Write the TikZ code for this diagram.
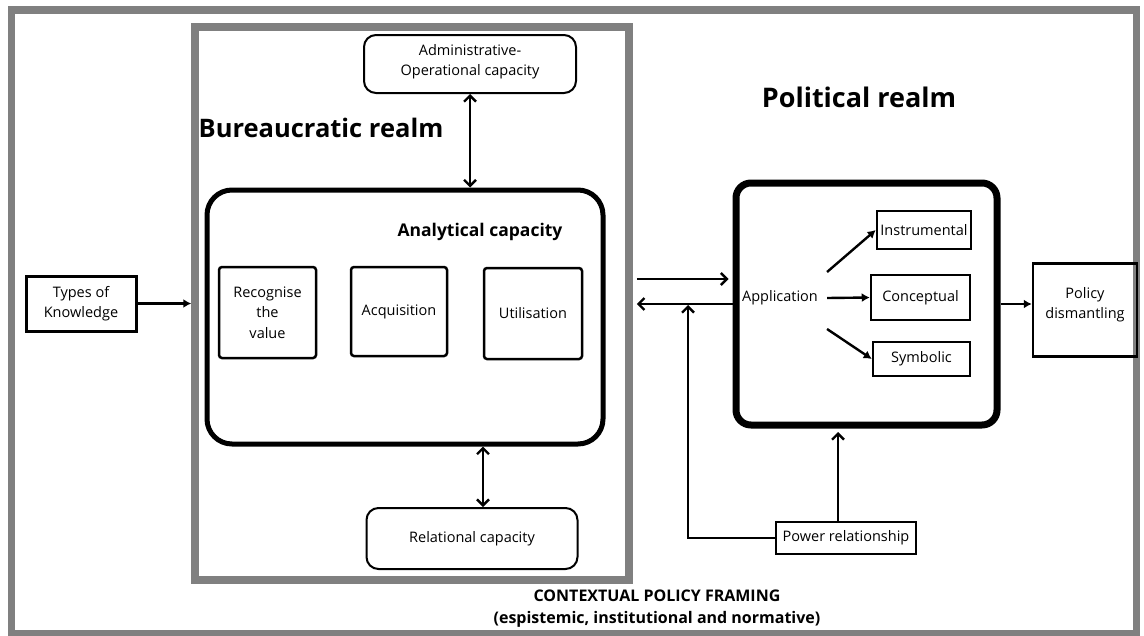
\documentclass[tikz,border=0pt]{standalone}
\usepackage{fontspec}
\setmainfont{Open Sans}
\usetikzlibrary{arrows.meta}

\begin{document}
\begin{tikzpicture}[x=1pt, y=-1pt, line width=2.4pt,
  >={Straight Barb[length=6pt,width=12pt]},
  box/.style={draw, line width=2.5pt, inner sep=0pt, align=center, font=\fontsize{14.5}{20.5}\selectfont},
  capbox/.style={box, line width=2pt, rounded corners=12pt},
  realm/.style={draw=gray, line width=7.5pt},
  head/.style={font=\fontsize{25.5}{30}\selectfont\bfseries},
  solidhead/.style={-{Latex[length=8pt,width=9pt]}}]
\useasboundingbox (0,0) rectangle (1144,635);

% frames
\draw[realm] (11.5,10) rectangle (1136.5,633.5);
\node[realm, minimum width=434pt, minimum height=553pt] (bur) at (412,303.5) {};

\node[head] (burtitle) at (321,128) {Bureaucratic realm};
\node[head, font=\fontsize{27}{30}\selectfont\bfseries] (poltitle) at (859,97) {Political realm};

% bureaucratic side
\node[box, line width=3pt, minimum width=110pt, minimum height=55pt] (types) at (81,303.5) {Types of\\Knowledge};
\node[capbox, minimum width=212pt, minimum height=58pt] (admin) at (470,64) {\\[-14pt]Administrative-\\Operational capacity};
\node[draw, line width=5pt, rounded corners=25pt, minimum width=396pt, minimum height=254pt] (ana) at (405,317) {};
\node[font=\fontsize{17.5}{20}\selectfont\bfseries] (anatitle) at (480,232) {Analytical capacity};
\node[box, rounded corners=3pt, minimum width=97pt, minimum height=91pt] (recog) at (267.5,312.5) {Recognise\\the\\value};
\node[box, rounded corners=3pt, minimum width=96pt, minimum height=89pt] (acq) at (399,311.5) {Acquisition};
\node[box, rounded corners=3pt, minimum width=98pt, minimum height=91pt] (util) at (533,313.5) {Utilisation};
\node[capbox, minimum width=211pt, minimum height=61pt] (rel) at (472,538.5) {Relational capacity};

% political side
\node[draw, line width=7pt, rounded corners=15pt, minimum width=261pt, minimum height=242pt] (pol) at (866.5,304) {};
\node[font=\fontsize{14.5}{20}\selectfont, inner sep=2pt] (app) at (780,298) {Application};
\node[box, minimum width=94pt, minimum height=38pt] (instr) at (924,230) {Instrumental};
\node[box, minimum width=99pt, minimum height=45pt] (concept) at (920.5,297.5) {Conceptual};
\node[box, minimum width=97pt, minimum height=34pt] (symb) at (921.5,359) {Symbolic};
\node[box, minimum width=104pt, minimum height=93pt] (policy) at (1085,310) {Policy\\dismantling\\[-6pt]};
\node[box, minimum width=140pt, minimum height=32pt] (power) at (846,538) {Power relationship};

\node[font=\fontsize{16}{22}\selectfont\bfseries, align=center] (ctx) at (657,609) {CONTEXTUAL POLICY FRAMING\\(espistemic, institutional and normative)};

% connectors
\draw[solidhead] (types) -- (types -| bur.west);
\draw[<->] (admin) -- (admin |- ana.north);
\draw[<->] ([xshift=11pt]rel.north) -- ([xshift=11pt]rel.north |- ana.south);
\draw[->, shorten <=4pt, shorten >=4pt] ([yshift=25pt]pol.west -| bur.east) -- ([yshift=25pt]pol.west);
\draw[->, shorten >=4pt] (pol.west) -- (pol.west -| bur.east);
\coordinate (join) at (688,304);
\draw[->, shorten >=1pt] (power.west) -| (join);
\draw[->, shorten >=3.5pt] ([xshift=-8pt]power.north) -- ([xshift=-8pt]power.north |- pol.south);
\draw[solidhead] ([xshift=6pt,yshift=26pt]app.east) -- (instr.west);
\draw[solidhead] ([xshift=6pt]app.east) -- (concept.west);
\draw[solidhead] ([xshift=6pt,yshift=-31pt]app.east) -- (symb.west);
\draw[solidhead] (pol.east) -- (pol.east -| policy.west);
\end{tikzpicture}
\end{document}
